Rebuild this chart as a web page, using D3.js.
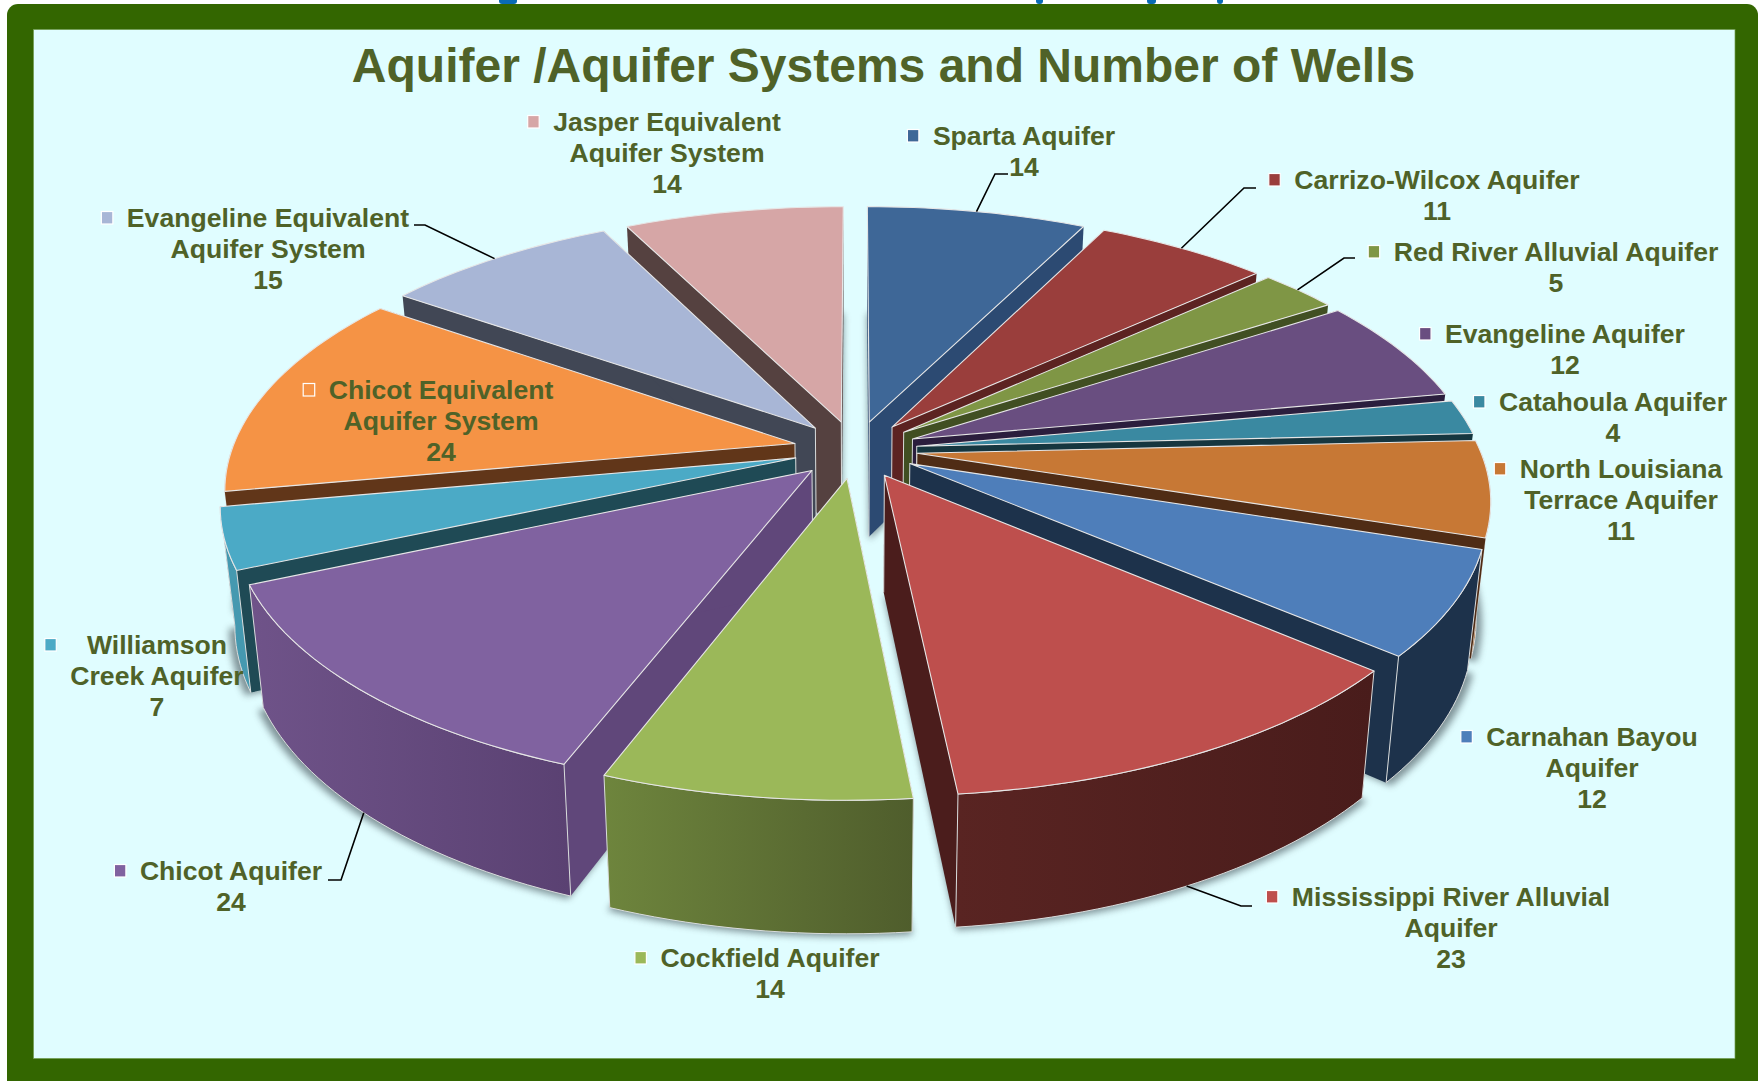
<!DOCTYPE html>
<html>
<head>
<meta charset="utf-8">
<script src="https://cdnjs.cloudflare.com/ajax/libs/d3/7.8.5/d3.min.js"></script>
<style>
  html, body { margin: 0; padding: 0; background: #fff; overflow: hidden; }
  text { font-family: "Liberation Sans", Arial, sans-serif; font-weight: bold; fill: #4f6228; }
</style>
</head>
<body>
<svg id="chart" width="1758" height="1081"></svg>
<script>
var svg = d3.select("#chart");

var chartTitle = "Aquifer /Aquifer Systems and Number of Wells";

var aquiferNames = [
  ["Sparta Aquifer"],
  ["Carrizo-Wilcox Aquifer"],
  ["Red River Alluvial Aquifer"],
  ["Evangeline Aquifer"],
  ["Catahoula Aquifer"],
  ["North Louisiana", "Terrace Aquifer"],
  ["Carnahan Bayou", "Aquifer"],
  ["Mississippi River Alluvial", "Aquifer"],
  ["Cockfield Aquifer"],
  ["Chicot Aquifer"],
  ["Williamson", "Creek Aquifer"],
  ["Chicot Equivalent", "Aquifer System"],
  ["Evangeline Equivalent", "Aquifer System"],
  ["Jasper Equivalent", "Aquifer System"]
];
var wellCounts = [14, 11, 5, 12, 4, 11, 12, 23, 14, 24, 7, 24, 15, 14];

var topColors = ["#3e6797", "#9a3e3c", "#7f9645", "#694e80", "#3a89a1", "#c77835", "#4e7eba",
  "#be4f4d", "#9bb859", "#8062a0", "#4baac6", "#f59345", "#a8b6d6", "#d6a6a6"];
var sideColors = ["#2c4a72", "#5c2321", "#414f22", "#2b1e3d", "#16363f", "#4f2c15", "#1d324b",
  "#4b1d1c", "#5a6b32", "#60477a", "#1f4a55", "#613619", "#414755", "#554140"];
var wallLeftColors = ["#2c4a72", "#5c2321", "#414f22", "#2b1e3d", "#16363f", "#a8652c", "#1d324b",
  "#592422", "#6e853d", "#6f5389", "#4599b0", "#c77835", "#414755", "#554140"];
var wallRightColors = ["#2c4a72", "#5c2321", "#414f22", "#2b1e3d", "#16363f", "#a8652c", "#1d324b",
  "#491c1b", "#4f5d2c", "#5a4172", "#4599b0", "#c77835", "#414755", "#554140"];

// label layout: centre x and the centre y of the first line
var labelX = [1024, 1437, 1556, 1565, 1613, 1621, 1592, 1451, 770, 231, 157, 441, 268, 667];
var labelY = [136, 180, 252, 334, 402, 469, 737, 897, 958, 871, 645, 390, 218, 122];

// leader lines: label side end and elbow, the third point comes from the slice
var leaders = [
  { slice: 0, from: [1008, 174], elbow: [995, 174], angle: 0.23 },
  { slice: 1, from: [1256, 188], elbow: [1244, 188], angle: 0.64 },
  { slice: 2, from: [1355, 258], elbow: [1344, 258], angle: 0.905 },
  { slice: 7, from: [1252, 906], elbow: [1241, 906], angle: 2.67, onBottom: true },
  { slice: 9, from: [328, 880], elbow: [341, 880], angle: 3.92, onBottom: true },
  { slice: 12, from: [414, 225], elbow: [425, 225], angle: 5.567 }
];

// the caption above the frame is cropped away, only these slivers of it are left
var captionSlivers = [[499, 18], [1036, 7], [1147, 9], [1217, 6]];

// pie projection, fitted on the slice corners
var cx = 855.3, cy = 449.5;
var radius = 563;
var explode = 62;
var tilt = 0.46;
var persp = 0.00029;
var wallHeight = 116;

var bottomX = d3.scaleLinear().domain([cx - 100, cx + 100]).range([cx - 97.7, cx + 97.7]);
var bottomY = d3.scaleLinear().domain([cy - 100, cy + 100]).range([cy + wallHeight - 105, cy + wallHeight + 105]);
var shadowX = d3.scaleLinear().domain([cx - 100, cx + 100]).range([cx - 98.6, cx + 98.6]);
var shadowY = d3.scaleLinear().domain([cy - 100, cy + 100]).range([cy + wallHeight - 102, cy + wallHeight + 108]);

function project(px, py) {
  var s = 1 / (1 + persp * py);
  return [cx + px * s, cy - py * tilt * s];
}

function pointOn(slice, r, a) {
  var m = (slice.startAngle + slice.endAngle) / 2;
  return project(explode * Math.sin(m) + r * Math.sin(a), explode * Math.cos(m) + r * Math.cos(a));
}

function toBottom(p) { return [bottomX(p[0]), bottomY(p[1])]; }
function toShadow(p) { return [shadowX(p[0]), shadowY(p[1])]; }

function arcPoints(slice, from, to) {
  var steps = Math.max(8, Math.ceil((to - from) * 40));
  return d3.range(steps + 1).map(function (i) {
    return pointOn(slice, radius, from + (to - from) * i / steps);
  });
}

var line = d3.line();
function closed(points) { return line(points) + "Z"; }

var pie = d3.pie().sort(null).value(function (d) { return d; });
var slices = pie(wellCounts);

// frame
captionSlivers.forEach(function (d) {
  svg.append("rect").attr("x", d[0]).attr("y", -3).attr("width", d[1]).attr("height", 7).attr("rx", 3).attr("fill", "#0a6bb5");
});
svg.append("rect").attr("x", 7).attr("y", 4).attr("width", 1751).attr("height", 1090).attr("rx", 11).attr("fill", "#336600");
svg.append("rect").attr("x", 33.5).attr("y", 29.5).attr("width", 1701.5).attr("height", 1029)
  .attr("fill", "#e0fdff").attr("stroke", "#6f9a4f").attr("stroke-width", 0.7);

var defs = svg.append("defs");
defs.append("filter").attr("id", "blur").attr("x", "-10%").attr("y", "-10%").attr("width", "120%").attr("height", "120%")
  .append("feGaussianBlur").attr("stdDeviation", 3.5);

slices.forEach(function (s, i) {
  var g = defs.append("linearGradient").attr("id", "wall" + i);
  g.append("stop").attr("offset", "0%").attr("stop-color", wallLeftColors[i]);
  g.append("stop").attr("offset", "100%").attr("stop-color", wallRightColors[i]);
});

// shadows lie on the background only, under every slice
var shadows = svg.append("g").attr("filter", "url(#blur)").attr("opacity", 0.85);
slices.forEach(function (s) {
  var outline = [pointOn(s, 0, 0)].concat(arcPoints(s, s.startAngle, s.endAngle)).map(toShadow);
  shadows.append("path").attr("d", closed(outline)).attr("fill", "#6f8287");
});

// paint from the far side to the near side
function depth(s) {
  return Math.cos((s.startAngle + s.endAngle) / 2);
}
var drawOrder = d3.range(slices.length).sort(function (a, b) {
  return d3.descending(depth(slices[a]), depth(slices[b]));
});

function drawWall(g, s, i) {
  // curved outer wall, only the part that faces the viewer
  var wallFrom = Math.max(s.startAngle, Math.PI / 2);
  var wallTo = Math.min(s.endAngle, Math.PI * 1.5);
  if (wallFrom >= wallTo) return;
  var wall = arcPoints(s, wallFrom, wallTo);
  g.append("path").attr("d", closed(wall.concat(wall.map(toBottom).reverse())))
    .attr("fill", "url(#wall" + i + ")")
    .attr("stroke", "#d9dcdc").attr("stroke-width", 1);
}

drawOrder.forEach(function (i) {
  var s = slices[i];
  var g = svg.append("g").attr("class", "slice");
  var apex = pointOn(s, 0, 0);
  var arc = arcPoints(s, s.startAngle, s.endAngle);
  var first = arc[0], last = arc[arc.length - 1];

  // on the sides the cut faces sit in front of the wall, in the front it is the other way
  var sideSlice = depth(s) > -0.2;
  if (sideSlice) drawWall(g, s, i);

  g.append("path").attr("d", closed([apex, first, toBottom(first), toBottom(apex)])).attr("fill", sideColors[i]);
  g.append("path").attr("d", closed([apex, last, toBottom(last), toBottom(apex)])).attr("fill", sideColors[i]);
  g.append("path").attr("d", line([apex, toBottom(apex)])).attr("fill", "none").attr("stroke", "#d9dcdc").attr("stroke-width", 1);

  if (!sideSlice) drawWall(g, s, i);

  // top
  g.append("path").attr("d", closed([apex].concat(arc)))
    .attr("fill", topColors[i])
    .attr("stroke", "#e6e6e6").attr("stroke-width", 1.1).attr("stroke-linejoin", "round");
});

// title
svg.append("text").attr("x", 883.5).attr("y", 82).attr("text-anchor", "middle").attr("font-size", 48).text(chartTitle);

// leader lines
leaders.forEach(function (d) {
  var end = pointOn(slices[d.slice], radius, d.angle);
  if (d.onBottom) end = toBottom(end);
  svg.append("path").attr("d", line([d.from, d.elbow, end])).attr("fill", "none").attr("stroke", "#000").attr("stroke-width", 1.6);
});

// labels
var lineGap = 30.8, fontSize = 26.6;
slices.forEach(function (s, i) {
  var lines = aquiferNames[i].concat([String(wellCounts[i])]);
  var g = svg.append("g");
  var widest = 0;
  lines.forEach(function (t, k) {
    var node = g.append("text")
      .attr("x", labelX[i])
      .attr("y", labelY[i] + k * lineGap + fontSize * 0.35)
      .attr("text-anchor", "middle")
      .attr("font-size", fontSize)
      .text(t);
    widest = Math.max(widest, node.node().getComputedTextLength());
  });
  g.append("rect")
    .attr("x", labelX[i] - widest / 2 - 25.5).attr("y", labelY[i] - 6.5)
    .attr("width", 11.5).attr("height", 12.5)
    .attr("fill", topColors[i]).attr("stroke", "#fff").attr("stroke-width", 1.2);
});
</script>
</body>
</html>
